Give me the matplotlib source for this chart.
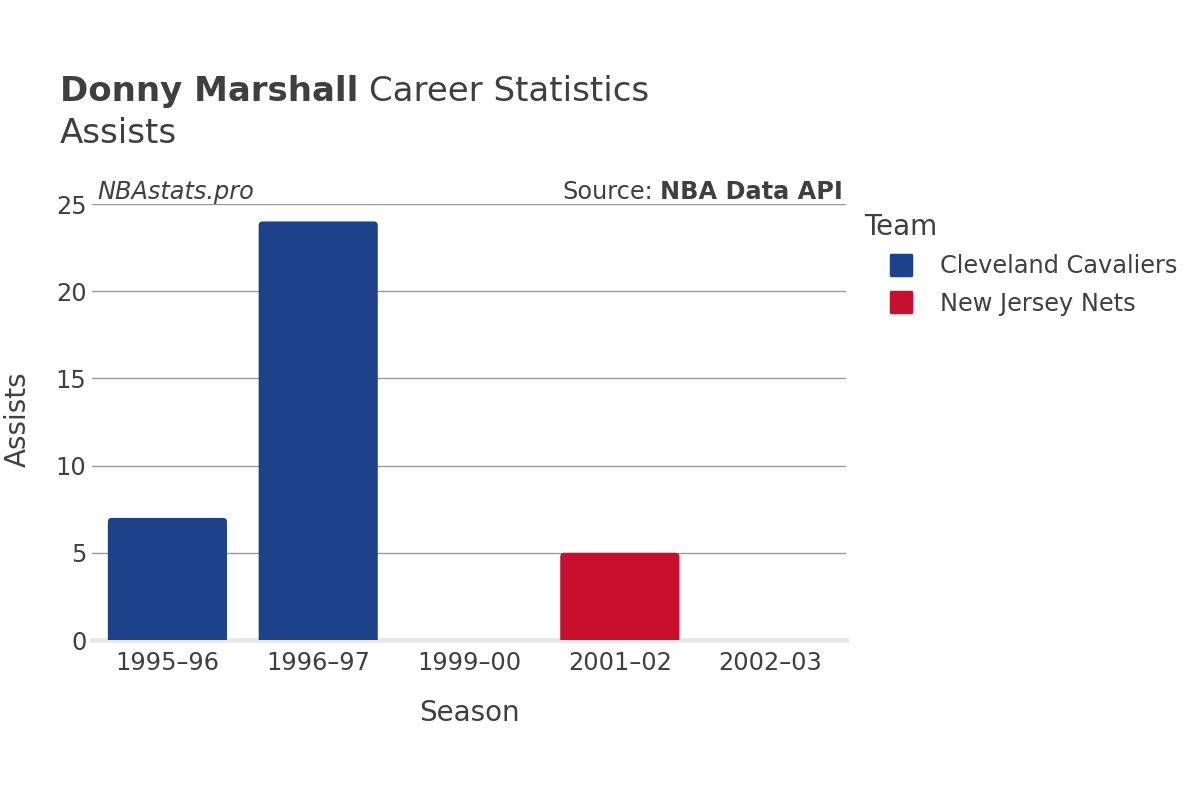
import matplotlib
matplotlib.use("Agg")
import matplotlib.pyplot as plt
from matplotlib.lines import Line2D
from matplotlib.markers import MarkerStyle
from matplotlib.patches import FancyBboxPatch

seasons = ["1995–96", "1996–97", "1999–00", "2001–02", "2002–03"]
assists = [7, 24, 0, 5, 0]
teams = ["Cleveland Cavaliers", "Cleveland Cavaliers", "New Jersey Nets", "New Jersey Nets", "New Jersey Nets"]
team_order = ["Cleveland Cavaliers", "New Jersey Nets"]
team_colors = {"Cleveland Cavaliers": "#1D428A", "New Jersey Nets": "#C8102E"}
yticks = [0, 5, 10, 15, 20, 25]

TXT = "#3f3f3f"
plt.rcParams['font.family'] = ['DejaVu Sans']

fig = plt.figure(figsize=(12, 8), dpi=100)
W, H = 1200, 800
ax = fig.add_axes([92 / W, 1 - 640 / H, (846 - 92) / W, (640 - 204) / H])

ax.set_xlim(-0.5, len(seasons) - 0.5)
ax.set_ylim(0, 25)

x = list(range(len(seasons)))
bars = ax.bar(x, assists, width=0.79, color=[team_colors[t] for t in teams], zorder=3)
# replace plain rectangles by rounded ones
px_per_x = (846 - 92) / 5.0
px_per_y = (640 - 204) / 25.0
r_x = 4.0 / px_per_x
aspect = px_per_x / px_per_y
for rect, v in zip(bars, assists):
    rect.set_visible(False)
    if v <= 0:
        continue
    r_y = r_x * aspect
    p = FancyBboxPatch((rect.get_x(), -r_y), rect.get_width(), rect.get_height() + r_y,
                       boxstyle=f"round,pad=0,rounding_size={r_x}", mutation_aspect=aspect,
                       facecolor=rect.get_facecolor(), edgecolor='none', zorder=3, clip_on=True)
    ax.add_patch(p)

ax.set_yticks(yticks)
ax.set_xticks(x)
ax.set_xticklabels(seasons)
for yt in yticks[1:]:
    ax.axhline(yt, color="#9a9a9a", lw=1.0, zorder=1)
ax.axhline(0, color="#e8e8e8", lw=3.5, zorder=2, clip_on=False)
for s in ax.spines.values():
    s.set_visible(False)
ax.tick_params(axis='both', length=0, labelsize=17.3, colors=TXT)
ax.tick_params(axis='x', pad=8)
ax.tick_params(axis='y', pad=4)

fig.text(60 / W, 1 - 101 / H, "Donny Marshall", fontsize=24.5, fontweight='bold', color=TXT, va='baseline')
fig.text(369 / W, 1 - 101 / H, "Career Statistics", fontsize=24.5, color=TXT, va='baseline')
fig.text(60 / W, 1 - 143 / H, "Assists", fontsize=24.5, color=TXT, va='baseline')

fig.text(97 / W, 1 - 199 / H, "NBAstats.pro", fontsize=17.3, style='italic', color=TXT, va='baseline')
t_src = fig.text(843 / W, 1 - 199 / H, "NBA Data API", fontsize=17.3, fontweight='bold', color=TXT,
                 va='baseline', ha='right')
fig.canvas.draw()
bb = t_src.get_window_extent()
fig.text((bb.x0 - 7) / W, 1 - 199 / H, "Source:", fontsize=17.3, color=TXT, va='baseline', ha='right')

fig.text(469 / W, 1 - 721 / H, "Season", fontsize=20, color=TXT, va='baseline', ha='center')
fig.text(18 / W, 1 - 419 / H, "Assists", fontsize=20, color=TXT, va='center', ha='center', rotation=90)

handles = [Line2D([], [], linestyle='none',
                  marker=MarkerStyle('s', joinstyle='round'), markersize=14,
                  markerfacecolor=team_colors[t], markeredgecolor=team_colors[t],
                  markeredgewidth=2.5) for t in team_order]
leg = fig.legend(handles, team_order, loc='upper left', bbox_to_anchor=(855 / W, 1 - 203 / H),
                 frameon=False, title="Team", fontsize=17.3, title_fontsize=20,
                 alignment='left', handlelength=3.05, handletextpad=0.08,
                 labelspacing=0.56, borderaxespad=0)
for txt in leg.get_texts():
    txt.set_color(TXT)
leg.get_title().set_color(TXT)

fig.savefig("out.png", dpi=100)
